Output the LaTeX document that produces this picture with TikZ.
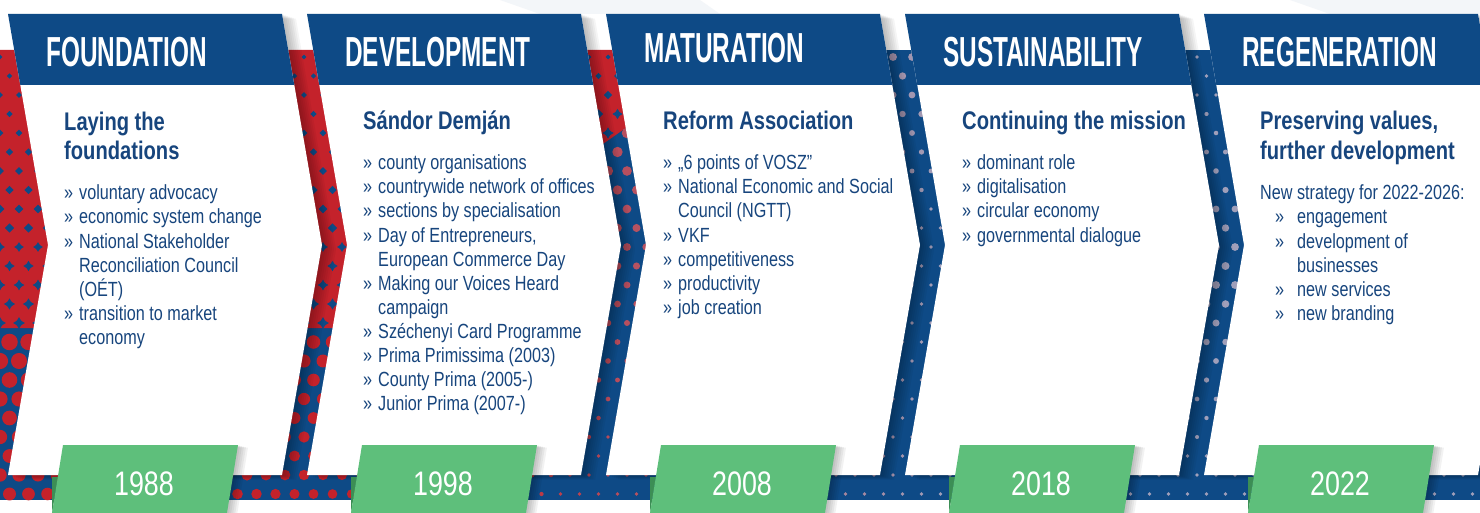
\documentclass[tikz,border=0pt]{standalone}
\usepackage{fontspec}
\setmainfont{Liberation Sans}
\newfontfamily\hdfont{Liberation Sans}[FakeStretch=0.58]
\newfontfamily\bdfont{Liberation Sans}[FakeStretch=0.79]
\definecolor{navy}{HTML}{0E4A86}
\definecolor{txtnavy}{HTML}{17457D}
\definecolor{myred}{HTML}{C4222B}
\definecolor{mygreen}{HTML}{5EBF7B}
\definecolor{darkgreen}{HTML}{3C8E55}
\definecolor{dotgrey}{HTML}{A09FBA}
\newcommand\bu{\makebox[15pt][l]{»}}
\tikzset{
  hdtxt/.style={anchor=base west, inner sep=0pt, text=white, font=\hdfont\bfseries\fontsize{42}{42}\selectfont},
  subtxt/.style={anchor=base west, inner sep=0pt, text=txtnavy, font=\bdfont\bfseries\fontsize{25.5}{29}\selectfont},
  bodytxt/.style={anchor=base west, inner sep=0pt, text=txtnavy, font=\bdfont\fontsize{20.5}{24}\selectfont},
  yeartxt/.style={anchor=base, inner sep=0pt, text=white, font=\bdfont\fontsize{34}{34}\selectfont}
}
\begin{document}
\begin{tikzpicture}[x=1pt,y=-1pt]
\useasboundingbox (0,0) rectangle (1480,513);
\clip (0,0) rectangle (1480,513);
\fill[white] (0,0) rectangle (1480,513);
% faint background shapes at the top
\fill[navy!5] (500,0) -- (700,0) -- (720,14) -- (540,14) -- cycle;
\fill[navy!5] (1290,0) -- (1480,0) -- (1480,14) -- (1330,14) -- cycle;
% background band with halftone
\begin{scope}
  \clip (0,50) rectangle (1480,500);
  \fill[navy] (0,50) rectangle (1480,500);
  \fill[myred] (0,50) -- (690,50) -- (660,104) -- (340,328) -- (0,328) -- cycle;
  \foreach \j in {0,...,23}{
    \foreach \i in {0,...,78}{
      \pgfmathsetmacro\px{19*\i+9.5*mod(\j,2)}
      \pgfmathsetmacro\py{57+19*\j}
      \pgfmathsetmacro\yb{\px<340 ? 328 : (\px<660 ? 328-(\px-340)*0.7 : 50)}
      \pgfmathtruncatemacro\inred{\py<\yb ? 1 : 0}
      \ifnum\inred=1
        \pgfmathsetmacro\s{2.2+3.8*(\py-50)/(\yb-50)}
        \fill[navy] ({\px},{\py-\s}) .. controls ({\px+0.35*\s},{\py-0.35*\s}) .. ({\px+\s},{\py})
          .. controls ({\px+0.35*\s},{\py+0.35*\s}) .. ({\px},{\py+\s})
          .. controls ({\px-0.35*\s},{\py+0.35*\s}) .. ({\px-\s},{\py})
          .. controls ({\px-0.35*\s},{\py-0.35*\s}) .. ({\px},{\py-\s}) -- cycle;
      \else
        \pgfmathsetmacro\r{\px>1050 ? 1.8+2.2*exp(-((\py-270)/110)^2) : max(1.8,8.5-0.012*(\py-\yb)-0.005*\px)}
        \pgfmathtruncatemacro\f{max(0,min(100,100-(\px-450)/5))}
        \fill[myred!\f!dotgrey] (\px,\py) circle[radius=\r];
      \fi
    }
  }
\end{scope}
% card shadows
\foreach \k in {0,...,4}{
  \pgfmathsetmacro\P{8+299*\k}
  \foreach \o in {2,4,...,14}{
    \fill[black,opacity=0.04] ({\P+\o},{14+\o/3}) -- ++(274,0) -- ++(40,231) -- ++(-40,230) -- ++(-274,0) -- ++(40,-230) -- cycle;
  }
}
% cards, headers, year labels
\foreach \k in {0,...,4}{
  \pgfmathsetmacro\P{8+299*\k}
  \fill[white] (\P,14) -- ++(274,0) -- ++(40,231) -- ++(-40,230) -- ++(-274,0) -- ++(40,-230) -- cycle;
  \fill[navy] (\P,14) -- ++(274,0) -- ++(12.3,71) -- ++(-274,0) -- cycle;
  \foreach \o in {2,4,...,10}{
    \fill[black,opacity=0.05] ({\P+55+\o},{445+\o/4}) -- ++(175,0) -- ++(-11,68) -- ++(-175,0) -- cycle;
  }
  \fill[darkgreen] ({\P+44},477) -- ({\P+50},477) -- ({\P+44},513) -- cycle;
  \fill[mygreen] ({\P+55},445) -- ++(175,0) -- ++(-11,68) -- ++(-175,0) -- cycle;
}
% ---- panel 1
\node[hdtxt] (h1) at (46,67) {FOUNDATION};
\node[subtxt] (s1a) at (64,131) {Laying the};
\node[subtxt] (s1b) at (64,160) {foundations};
\node[bodytxt] (b1a) at (64,200) {\bu voluntary advocacy};
\node[bodytxt] (b1b) at (64,224) {\bu economic system change};
\node[bodytxt] (b1c) at (64,248) {\bu National Stakeholder};
\node[bodytxt] (b1d) at (79,272) {Reconciliation Council};
\node[bodytxt] (b1e) at (79,296) {(OÉT)};
\node[bodytxt] (b1f) at (64,320) {\bu transition to market};
\node[bodytxt] (b1g) at (79,344) {economy};
\node[yeartxt] (y1) at (144,495) {1988};
% ---- panel 2
\node[hdtxt] (h2) at (345,67) {DEVELOPMENT};
\node[subtxt] (s2a) at (363,130) {Sándor Demján};
\node[bodytxt] (b2a) at (363,170) {\bu county organisations};
\node[bodytxt] (b2b) at (363,194) {\bu countrywide network of offices};
\node[bodytxt] (b2c) at (363,218) {\bu sections by specialisation};
\node[bodytxt] (b2d) at (363,242) {\bu Day of Entrepreneurs,};
\node[bodytxt] (b2e) at (378,266) {European Commerce Day};
\node[bodytxt] (b2f) at (363,290) {\bu Making our Voices Heard};
\node[bodytxt] (b2g) at (378,314) {campaign};
\node[bodytxt] (b2h) at (363,338) {\bu Széchenyi Card Programme};
\node[bodytxt] (b2i) at (363,362) {\bu Prima Primissima (2003)};
\node[bodytxt] (b2j) at (363,386) {\bu County Prima (2005-)};
\node[bodytxt] (b2k) at (363,410) {\bu Junior Prima (2007-)};
\node[yeartxt] (y2) at (443,495) {1998};
% ---- panel 3
\node[hdtxt] (h3) at (644,63) {MATURATION};
\node[subtxt] (s3a) at (663,130) {Reform Association};
\node[bodytxt] (b3a) at (663,170) {\bu „6 points of VOSZ”};
\node[bodytxt] (b3b) at (663,194) {\bu National Economic and Social};
\node[bodytxt] (b3c) at (678,218) {Council (NGTT)};
\node[bodytxt] (b3d) at (663,242) {\bu VKF};
\node[bodytxt] (b3e) at (663,266) {\bu competitiveness};
\node[bodytxt] (b3f) at (663,290) {\bu productivity};
\node[bodytxt] (b3g) at (663,314) {\bu job creation};
\node[yeartxt] (y3) at (742,495) {2008};
% ---- panel 4
\node[hdtxt] (h4) at (943,67) {SUSTAINABILITY};
\node[subtxt] (s4a) at (962,130) {Continuing the mission};
\node[bodytxt] (b4a) at (962,170) {\bu dominant role};
\node[bodytxt] (b4b) at (962,194) {\bu digitalisation};
\node[bodytxt] (b4c) at (962,218) {\bu circular economy};
\node[bodytxt] (b4d) at (962,242) {\bu governmental dialogue};
\node[yeartxt] (y4) at (1041,495) {2018};
% ---- panel 5
\node[hdtxt] (h5) at (1242,67) {REGENERATION};
\node[subtxt] (s5a) at (1260,130) {Preserving values,};
\node[subtxt] (s5b) at (1260,160) {further development};
\node[bodytxt] (b5a) at (1260,200) {New strategy for 2022-2026:};
\node[bodytxt] (b5b) at (1275,224) {\makebox[22pt][l]{»}engagement};
\node[bodytxt] (b5c) at (1275,248) {\makebox[22pt][l]{»}development of};
\node[bodytxt] (b5d) at (1297,272) {businesses};
\node[bodytxt] (b5e) at (1275,296) {\makebox[22pt][l]{»}new services};
\node[bodytxt] (b5f) at (1275,320) {\makebox[22pt][l]{»}new branding};
\node[yeartxt] (y5) at (1340,495) {2022};
\end{tikzpicture}
\end{document}
